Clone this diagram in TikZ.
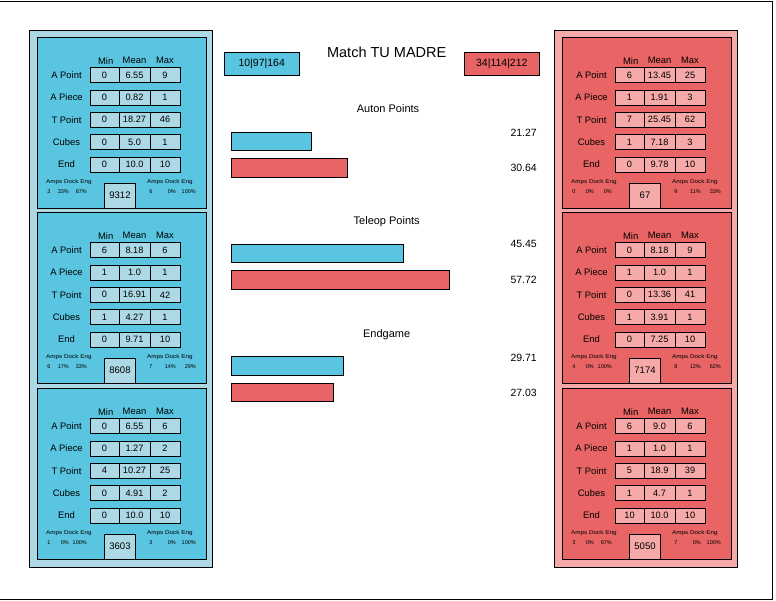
\documentclass[tikz,border=0pt]{standalone}
\usepackage{fontspec}
\usepackage{graphicx}
\setmainfont{Liberation Sans}
\definecolor{bluein}{HTML}{5AC5E0}
\definecolor{blueout}{HTML}{ADD8E6}
\definecolor{redin}{HTML}{E96464}
\definecolor{redout}{HTML}{F5A9A9}
\tikzset{
  panelbox/.style={draw=black, line width=0.8pt, inner sep=0pt, anchor=north west},
  cell/.style={draw=black, line width=0.8pt, inner sep=0pt, minimum height=15pt, font=\fontsize{9.2}{10}\selectfont},
  hdr/.style={font=\fontsize{9.4}{10}\selectfont, inner sep=0pt},
  tinytxt/.style={font=\fontsize{5.5}{6}\selectfont, inner sep=0pt},
  barbox/.style={draw=black, line width=0.8pt, inner sep=0pt, anchor=north west, minimum height=18.5pt},
  valtxt/.style={font=\fontsize{10.5}{12}\selectfont, inner sep=0pt, anchor=east},
  sectxt/.style={font=\fontsize{11}{12}\selectfont, inner sep=0pt},
  teambox/.style={draw=black, line width=0.8pt, inner sep=0pt, minimum width=75pt, minimum height=23.4pt, font=\fontsize{10.5}{12}\selectfont},
}
% #1 x, #2 y, #3 name, #4 fill, #5 cell fill, #6 rows, #7 team, #8 left small, #9 right small
\newcommand\statpanel[9]{%
  \node[panelbox, fill=#4, minimum width=169pt, minimum height=171pt] (#3) at (#1,#2) {};
  \node[hdr] (#3-hmin) at (#1+68.7,#2+23.7) {Min};
  \node[hdr] (#3-hmean) at (#1+97.5,#2+23.7) {Mean};
  \node[hdr] (#3-hmax) at (#1+128,#2+23.7) {Max};
  \foreach \lab [count=\i from 0] in {A Point,A Piece,T Point,Cubes,End}{
    \node[hdr] (#3-l\i) at (#1+29.5,#2+38+22.4*\i) {\lab};
  }
  \foreach \va/\vb/\vc [count=\i from 0] in {#6}{
    \node[cell, fill=#5, minimum width=29pt] (#3-a\i) at (#1+67.5,#2+38+22.4*\i) {\va};
    \node[cell, fill=#5, minimum width=31pt] (#3-b\i) at (#1+97.5,#2+38+22.4*\i) {\vb};
    \node[cell, fill=#5, minimum width=30pt] (#3-c\i) at (#1+128,#2+38+22.4*\i) {\vc};
  }
  \node[tinytxt, anchor=west] (#3-hl) at (#1+9,#2+145) {\scalebox{1.15}[1]{Amps Dock Eng}};
  \node[tinytxt, anchor=west] (#3-hr) at (#1+110,#2+145) {\scalebox{1.15}[1]{Amps Dock Eng}};
  \foreach \p/\q/\r in {#8}{
    \node[tinytxt] (#3-vl1) at (#1+12,#2+155) {\p};
    \node[tinytxt, anchor=east] (#3-vl2) at (#1+32,#2+155) {\q};
    \node[tinytxt, anchor=east] (#3-vl3) at (#1+50,#2+155) {\r};
  }
  \foreach \p/\q/\r in {#9}{
    \node[tinytxt] (#3-vr1) at (#1+114,#2+155) {\p};
    \node[tinytxt, anchor=east] (#3-vr2) at (#1+139,#2+155) {\q};
    \node[tinytxt, anchor=east] (#3-vr3) at (#1+159,#2+155) {\r};
  }
  \node[cell, fill=#5, minimum width=31pt, minimum height=25pt, font=\fontsize{9.5}{10}\selectfont] (#3-team) at (#1+83,#2+158.5) {#7};
}
\begin{document}
\begin{tikzpicture}[x=1pt,y=-1pt]
\useasboundingbox (0,0) rectangle (776,600);
\fill[white] (0,0) rectangle (776,600);
\draw[line width=0.8pt] (0,1) -- (772.5,1) -- (772.5,599) -- (0,599);
% outer panels
\node[panelbox, fill=blueout, minimum width=183pt, minimum height=537pt] (leftout) at (29,30) {};
\node[panelbox, fill=redout, minimum width=183pt, minimum height=537pt] (rightout) at (554,30) {};
% left panels
\statpanel{37}{37}{L1}{bluein}{blueout}{0/6.55/9,0/0.82/1,0/18.27/46,0/5.0/1,0/10.0/10}{9312}{3/33\%/67\%}{6/0\%/100\%}
\statpanel{37}{212}{L2}{bluein}{blueout}{6/8.18/6,1/1.0/1,0/16.91/42,1/4.27/1,0/9.71/10}{8608}{6/17\%/33\%}{7/14\%/29\%}
\statpanel{37}{388}{L3}{bluein}{blueout}{0/6.55/6,0/1.27/2,4/10.27/25,0/4.91/2,0/10.0/10}{3603}{1/0\%/100\%}{3/0\%/100\%}
% right panels
\statpanel{562}{37}{R1}{redin}{redout}{6/13.45/25,1/1.91/3,7/25.45/62,1/7.18/3,0/9.78/10}{67}{0/0\%/0\%}{9/11\%/33\%}
\statpanel{562}{212}{R2}{redin}{redout}{0/8.18/9,1/1.0/1,0/13.36/41,1/3.91/1,0/7.25/10}{7174}{4/0\%/100\%}{8/12\%/62\%}
\statpanel{562}{388}{R3}{redin}{redout}{6/9.0/6,1/1.0/1,5/18.9/39,1/4.7/1,10/10.0/10}{5050}{3/0\%/67\%}{7/0\%/100\%}
% title and alliances
\node[font=\fontsize{14.5}{16}\selectfont, inner sep=0pt] (title) at (386.7,52.7) {Match TU MADRE};
\node[teambox, fill=bluein] (blueteam) at (261.7,64) {10|97|164};
\node[teambox, fill=redin] (redteam) at (501.8,64) {34|114|212};
% auton
\node[sectxt] (auton) at (388,109) {Auton Points};
\node[barbox, fill=bluein, minimum width=80.4pt] (ab) at (231,131.7) {};
\node[barbox, fill=redin, minimum width=115.8pt] (ar) at (231,158) {};
\node[valtxt] (abv) at (537,132.7) {21.27};
\node[valtxt] (arv) at (537,168.3) {30.64};
% teleop
\node[sectxt] (teleop) at (386.7,221.7) {Teleop Points};
\node[barbox, fill=bluein, minimum width=171.8pt] (tb) at (231,243.5) {};
\node[barbox, fill=redin, minimum width=218.2pt] (tr) at (231,270) {};
\node[valtxt] (tbv) at (537,244.3) {45.45};
\node[valtxt] (trv) at (537,280) {57.72};
% endgame
\node[sectxt] (endg) at (386.7,335) {Endgame};
\node[barbox, fill=bluein, minimum width=112.3pt] (eb) at (231,356) {};
\node[barbox, fill=redin, minimum width=102.2pt] (er) at (231,382.5) {};
\node[valtxt] (ebv) at (537,357.7) {29.71};
\node[valtxt] (erv) at (537,392.7) {27.03};
\end{tikzpicture}
\end{document}
